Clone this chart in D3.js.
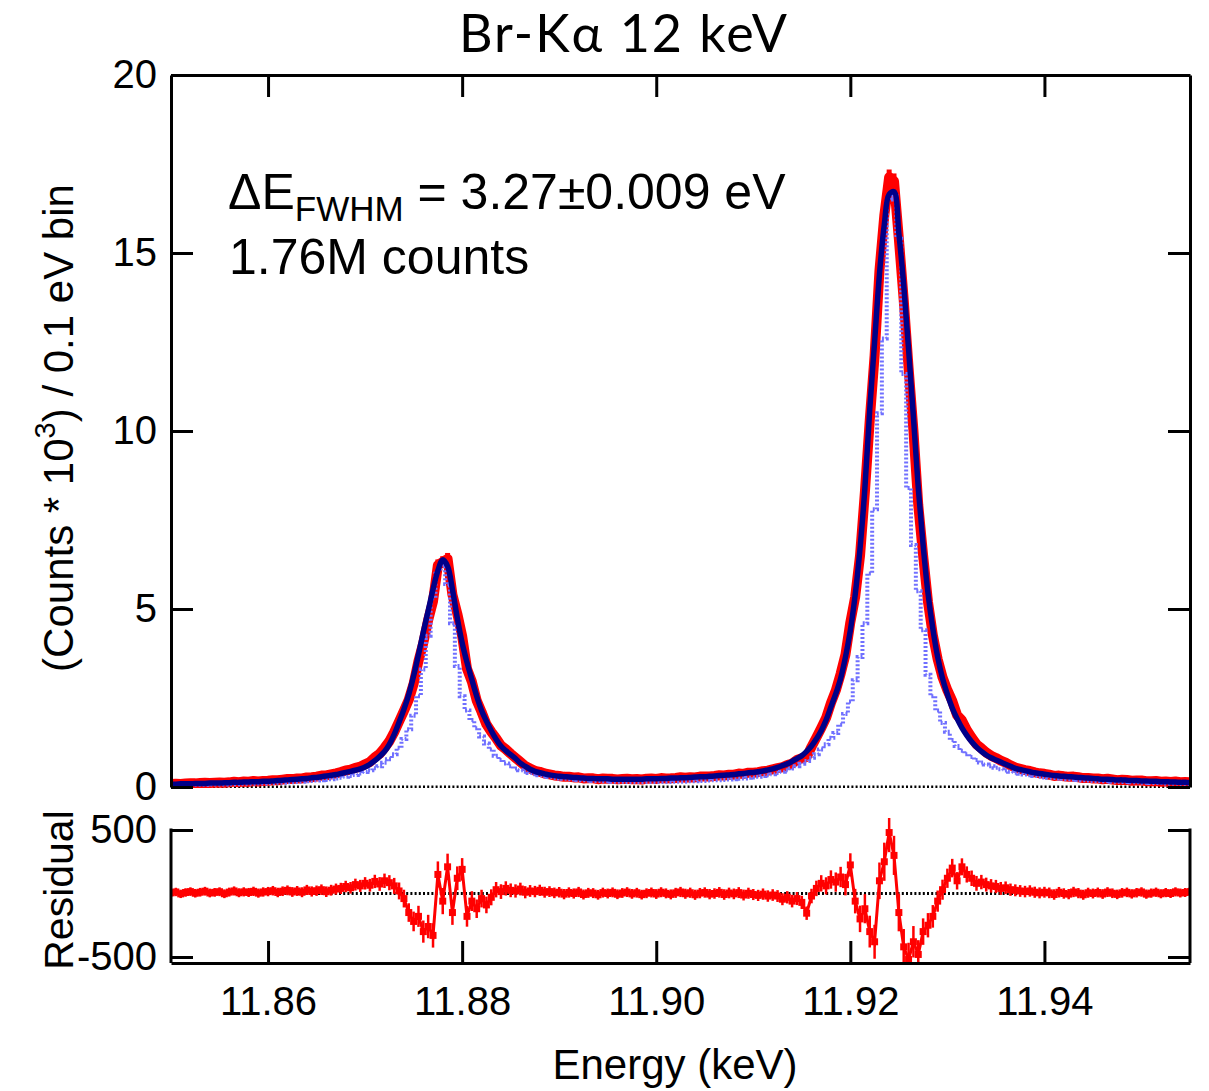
<!DOCTYPE html>
<html>
<head>
<meta charset="utf-8">
<script src="https://cdn.jsdelivr.net/npm/d3@7"></script>
<style>
  body { margin: 0; background: #fff; }
  text { font-family: "Liberation Sans", Arial, sans-serif; }
</style>
</head>
<body>
<div class="chart"></div>
<script>
// energy bins: 0.5 eV grid starting at 11.850 keV
const energyStart = 11.850;
const binStep = 0.0005;

// fitted line shape, counts * 10^3
const fitValues = [
  0.08,0.08,0.09,0.09,0.09,0.10,0.10,0.10,0.11,0.11,
  0.11,0.12,0.12,0.13,0.13,0.14,0.14,0.15,0.15,0.16,
  0.16,0.17,0.18,0.19,0.20,0.21,0.22,0.23,0.24,0.26,
  0.27,0.29,0.31,0.33,0.35,0.38,0.41,0.44,0.47,0.51,
  0.56,0.64,0.74,0.86,1.00,1.20,1.48,1.82,2.18,2.60,
  3.12,3.72,4.35,4.95,5.55,6.08,6.38,6.20,5.55,4.75,
  4.05,3.50,3.02,2.55,2.15,1.85,1.58,1.34,1.15,1.02,
  0.91,0.80,0.67,0.58,0.50,0.44,0.40,0.37,0.34,0.32,
  0.30,0.29,0.28,0.27,0.26,0.25,0.24,0.24,0.23,0.23,
  0.23,0.22,0.22,0.22,0.22,0.22,0.22,0.22,0.23,0.23,
  0.23,0.24,0.24,0.25,0.25,0.26,0.26,0.27,0.28,0.29,
  0.29,0.30,0.31,0.32,0.33,0.34,0.35,0.37,0.38,0.40,
  0.41,0.43,0.45,0.48,0.51,0.55,0.60,0.65,0.72,0.80,
  0.88,1.00,1.15,1.35,1.58,1.88,2.25,2.62,3.05,3.65,
  4.40,5.40,6.70,8.40,10.60,12.50,14.40,15.80,16.65,16.72,
  15.55,14.10,12.30,10.40,8.40,6.80,5.45,4.45,3.65,3.05,
  2.60,2.22,1.92,1.66,1.45,1.27,1.12,1.00,0.90,0.82,
  0.76,0.70,0.64,0.58,0.52,0.49,0.46,0.43,0.40,0.38,
  0.36,0.34,0.32,0.31,0.30,0.29,0.28,0.27,0.26,0.25,
  0.24,0.23,0.22,0.22,0.21,0.20,0.20,0.19,0.18,0.18,
  0.17,0.17,0.16,0.16,0.15,0.15,0.14,0.14,0.13,0.13,
  0.12
];

// natural (unbroadened) line shape, dotted light blue
const naturalValues = [
  0.05,0.05,0.05,0.05,0.06,0.06,0.06,0.06,0.07,0.07,
  0.07,0.07,0.08,0.08,0.08,0.09,0.09,0.09,0.10,0.10,
  0.11,0.11,0.12,0.12,0.13,0.13,0.14,0.15,0.16,0.17,
  0.18,0.19,0.20,0.22,0.24,0.26,0.29,0.31,0.34,0.38,
  0.42,0.47,0.53,0.58,0.68,0.78,0.92,1.10,1.35,1.62,
  2.00,2.55,3.30,4.25,5.30,6.05,6.24,5.70,4.60,3.40,
  2.55,2.15,1.88,1.65,1.42,1.22,1.05,0.88,0.76,0.66,
  0.58,0.52,0.47,0.43,0.39,0.36,0.33,0.30,0.28,0.26,
  0.24,0.23,0.22,0.21,0.20,0.19,0.18,0.17,0.17,0.16,
  0.16,0.15,0.15,0.15,0.14,0.14,0.14,0.14,0.14,0.14,
  0.14,0.14,0.14,0.14,0.15,0.15,0.15,0.16,0.16,0.17,
  0.17,0.18,0.19,0.19,0.20,0.21,0.22,0.23,0.24,0.26,
  0.27,0.29,0.31,0.33,0.36,0.39,0.43,0.47,0.52,0.58,
  0.65,0.73,0.82,0.92,1.05,1.20,1.38,1.52,1.75,2.05,
  2.40,3.00,3.65,4.60,6.00,7.80,10.50,12.60,16.50,16.60,
  15.40,11.60,8.40,6.80,5.50,4.40,3.15,2.55,2.15,1.80,
  1.55,1.32,1.15,1.02,0.92,0.84,0.76,0.69,0.63,0.58,
  0.54,0.50,0.46,0.43,0.40,0.37,0.35,0.33,0.31,0.29,
  0.27,0.26,0.25,0.24,0.23,0.22,0.21,0.20,0.19,0.18,
  0.17,0.17,0.16,0.16,0.15,0.15,0.14,0.14,0.13,0.13,
  0.12,0.12,0.11,0.11,0.11,0.10,0.10,0.10,0.09,0.09,
  0.09
];

// residual = data - fit, counts
const residualValues = [
  5,12,-3,8,15,2,10,18,4,9,
  14,-2,11,20,6,13,8,17,3,12,
  15,22,8,18,25,12,20,10,28,16,
  22,30,14,26,35,40,55,45,70,60,
  80,65,95,75,100,85,60,20,-40,-150,
  -220,-180,-300,-260,-330,150,-60,210,-150,120,
  190,-180,-60,-120,-40,-90,-30,30,15,40,
  25,20,35,10,20,15,25,10,15,5,
  10,-5,8,0,12,-8,5,3,-10,7,
  0,9,-6,4,11,-3,6,-9,2,8,
  -4,10,1,-7,5,12,-2,6,-10,3,
  8,-5,0,9,-8,4,-3,7,-12,2,
  -8,-15,-5,-20,-12,-20,-45,-30,-60,-40,
  -70,-155,-20,40,80,60,110,90,130,70,
  225,-60,-200,-120,-300,-380,100,250,480,300,
  -150,-420,-520,-380,-480,-300,-250,-180,-60,30,
  120,200,100,210,150,120,80,90,70,60,
  55,40,45,30,25,20,15,20,10,5,
  10,5,-8,10,0,-5,12,3,-10,6,
  0,8,-4,11,2,-7,5,9,-3,6,
  12,-5,3,10,-2,7,0,13,4,8,
  15
];

const countTicks = [0, 5, 10, 15, 20];
const residTicks = [-500, 500];
const energyTicks = [11.86, 11.88, 11.90, 11.92, 11.94];

const width = 1209, height = 1091;
const left = 171, right = 1190;
const mainTop = 75, mainBottom = 787;
const resTop = 830, resZeroBottom = 957, resBottom = 963;
const tick = 22;

const bins = fitValues.map((f, i) => {
  const counts = f * 1000 + residualValues[i];
  return {
    e: energyStart + i * binStep,
    fit: f,
    nat: naturalValues[i],
    res: residualValues[i],
    data: counts / 1000,
    err: Math.sqrt(Math.max(counts, 0))
  };
});

const x = d3.scaleLinear().domain([11.85, 11.955]).range([left, right]);
const y = d3.scaleLinear().domain([0, 20]).range([mainBottom, mainTop]);
const yr = d3.scaleLinear().domain([-500, 500]).range([resZeroBottom, resTop]);

const svg = d3.select('.chart')
  .append('svg')
  .attr('width', width)
  .attr('height', height);

const defs = svg.append('defs');
defs.append('clipPath').attr('id', 'clipMain')
  .append('rect')
  .attr('x', left).attr('y', mainTop)
  .attr('width', right - left).attr('height', mainBottom - mainTop + 1);
defs.append('clipPath').attr('id', 'clipRes')
  .append('rect')
  .attr('x', left).attr('y', resTop - 12)
  .attr('width', right - left).attr('height', resBottom - resTop + 12);

// ---- main panel ----
const main = svg.append('g').attr('clip-path', 'url(#clipMain)');

main.append('line')
  .attr('x1', left).attr('x2', right)
  .attr('y1', y(0)).attr('y2', y(0))
  .attr('stroke', '#000').attr('stroke-width', 3)
  .attr('stroke-dasharray', '2,2.2');

main.append('path')
  .datum(bins)
  .attr('fill', 'none')
  .attr('stroke', '#ff0000')
  .attr('stroke-width', 10)
  .attr('stroke-linejoin', 'round')
  .attr('d', d3.line().x(d => x(d.e)).y(d => y(d.data)));

main.selectAll('.errMain')
  .data(bins)
  .enter()
  .append('line')
  .attr('class', 'errMain')
  .attr('x1', d => x(d.e)).attr('x2', d => x(d.e))
  .attr('y1', d => y(d.data + d.err / 1000) - 3)
  .attr('y2', d => y(d.data - d.err / 1000) + 3)
  .attr('stroke', '#ff0000')
  .attr('stroke-width', 5);

main.append('path')
  .datum(bins)
  .attr('fill', 'none')
  .attr('stroke', '#7070ff')
  .attr('stroke-width', 4)
  .attr('stroke-dasharray', '2,2')
  .attr('d', d3.line().curve(d3.curveStep).x(d => x(d.e)).y(d => y(d.nat)));

main.append('path')
  .datum(bins)
  .attr('fill', 'none')
  .attr('stroke', '#000088')
  .attr('stroke-width', 5.5)
  .attr('d', d3.line().curve(d3.curveCatmullRom).x(d => x(d.e)).y(d => y(d.fit)));

// main axes
const axisStyle = g => {
  g.selectAll('path, line').attr('stroke', '#000').attr('stroke-width', 3);
  g.selectAll('text').attr('fill', '#000').style('font-size', '40px');
};

svg.append('g')
  .attr('transform', 'translate(' + left + ',0)')
  .call(d3.axisLeft(y).tickValues(countTicks).tickSize(-tick).tickSizeOuter(0).tickPadding(14))
  .call(axisStyle);

svg.append('g')
  .attr('transform', 'translate(' + right + ',0)')
  .call(d3.axisRight(y).tickValues(countTicks).tickSize(-tick).tickSizeOuter(0).tickFormat(''))
  .call(axisStyle);

svg.append('g')
  .attr('transform', 'translate(0,' + mainTop + ')')
  .call(d3.axisTop(x).tickValues(energyTicks).tickSize(-tick).tickSizeOuter(0).tickFormat(''))
  .call(axisStyle);

// ---- residual panel ----
const res = svg.append('g').attr('clip-path', 'url(#clipRes)');

res.append('line')
  .attr('x1', left).attr('x2', right)
  .attr('y1', yr(0)).attr('y2', yr(0))
  .attr('stroke', '#000').attr('stroke-width', 3)
  .attr('stroke-dasharray', '2,2.2');

res.append('path')
  .datum(bins)
  .attr('fill', 'none')
  .attr('stroke', '#ff0000')
  .attr('stroke-width', 3)
  .attr('d', d3.line().x(d => x(d.e)).y(d => yr(d.res)));

res.selectAll('.errRes')
  .data(bins)
  .enter()
  .append('line')
  .attr('class', 'errRes')
  .attr('x1', d => x(d.e)).attr('x2', d => x(d.e))
  .attr('y1', d => yr(d.res + d.err) - 3)
  .attr('y2', d => yr(d.res - d.err) + 3)
  .attr('stroke', '#ff0000')
  .attr('stroke-width', 2.5);

res.selectAll('.ptRes')
  .data(bins)
  .enter()
  .append('rect')
  .attr('class', 'ptRes')
  .attr('x', d => x(d.e) - 3.5).attr('y', d => yr(d.res) - 3.5)
  .attr('width', 7).attr('height', 7)
  .attr('fill', '#ff0000');

svg.append('g')
  .attr('transform', 'translate(' + left + ',0)')
  .call(d3.axisLeft(yr).tickValues(residTicks).tickSize(-tick).tickSizeOuter(0).tickPadding(14).tickFormat(d => String(d)))
  .call(axisStyle)
  .call(g => g.select('.domain').remove());

svg.append('g')
  .attr('transform', 'translate(' + right + ',0)')
  .call(d3.axisRight(yr).tickValues(residTicks).tickSize(-tick).tickSizeOuter(0).tickFormat(''))
  .call(axisStyle)
  .call(g => g.select('.domain').remove());

[left, right].forEach(px => {
  svg.append('line')
    .attr('x1', px).attr('x2', px)
    .attr('y1', yr(500) - 1.5).attr('y2', resBottom)
    .attr('stroke', '#000').attr('stroke-width', 3);
});

svg.append('g')
  .attr('transform', 'translate(0,' + resBottom + ')')
  .call(d3.axisBottom(x).tickValues(energyTicks).tickSize(-tick).tickSizeOuter(0).tickPadding(24).tickFormat(d3.format('.2f')))
  .call(axisStyle);

// ---- texts ----
svg.append('text')
  .attr('x', 624).attr('y', 52)
  .attr('text-anchor', 'middle')
  .style('font-family', 'Lato, "Open Sans", sans-serif')
  .style('font-size', '52px')
  .style('letter-spacing', '2px')
  .text('Br-Kα 12 keV');

const note = svg.append('text')
  .attr('x', 228).attr('y', 209)
  .style('font-size', '50px');
note.append('tspan').text('ΔE');
note.append('tspan').attr('dy', 12).style('font-size', '35px').text('FWHM');
note.append('tspan').attr('dy', -12).text(' = 3.27±0.009 eV');

svg.append('text')
  .attr('x', 229).attr('y', 274)
  .style('font-size', '50px')
  .text('1.76M counts');

const ylab = svg.append('text')
  .attr('transform', 'translate(73,428) rotate(-90)')
  .attr('text-anchor', 'middle')
  .style('font-size', '42px');
ylab.append('tspan').text('(Counts * 10');
ylab.append('tspan').attr('dy', -18).style('font-size', '29px').text('3');
ylab.append('tspan').attr('dy', 18).text(') / 0.1 eV bin');

svg.append('text')
  .attr('transform', 'translate(73,890) rotate(-90)')
  .attr('text-anchor', 'middle')
  .style('font-size', '41px')
  .text('Residual');

svg.append('text')
  .attr('x', 675).attr('y', 1079)
  .attr('text-anchor', 'middle')
  .style('font-size', '42px')
  .text('Energy (keV)');
</script>
</body>
</html>
